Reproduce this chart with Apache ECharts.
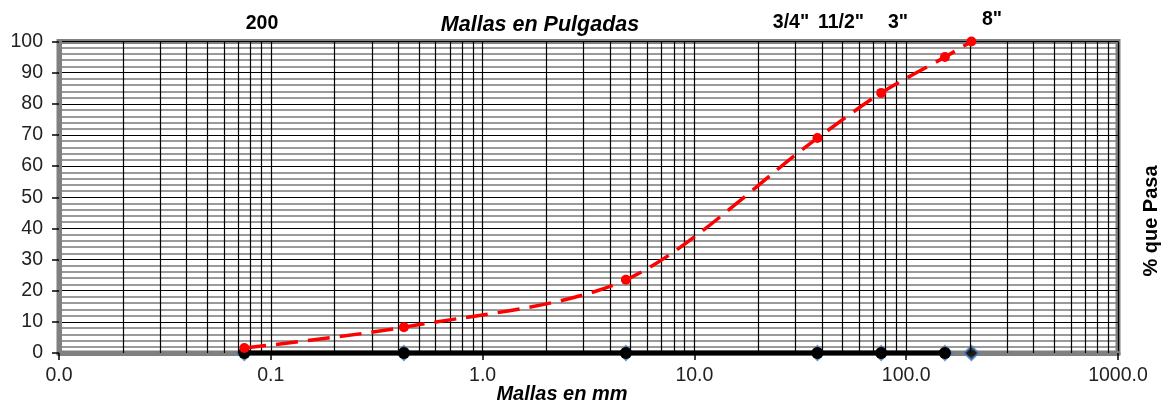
<!DOCTYPE html>
<html><head><meta charset="utf-8">
<script src="https://cdn.jsdelivr.net/npm/echarts@6/dist/echarts.min.js"></script>
<style>html,body{margin:0;padding:0;background:#fff}#c{width:1163px;height:405px}</style>
</head><body><div id="c"></div>
<script>
// ---- data ----
const sieveMm = [0.075, 0.425, 4.75, 38.1, 76.2, 152.4, 203.2];
const percentPassing = [1.6, 8.3, 23.5, 69, 83.5, 95, 100];
const baseSieveMm = [0.075, 0.425, 4.75, 38.1, 76.2, 152.4];
const baseValues = [0, 0, 0, 0, 0, 0];
const diamondValues = [0, 0, 0, 0, 0, 0, 0];
const inchLabels = ['200', '3/4"', '11/2"', '3"', '8"'];
const titleText = 'Mallas en Pulgadas';
const xName = 'Mallas en mm';
const yName = '% que Pasa';

// minor vertical gridlines (2..9 within each decade)
const minorX = [];
for (let e = -2; e < 3; e++) for (let m = 2; m <= 9; m++) minorX.push(+(m * Math.pow(10, e)).toPrecision(3));

const FONT = 'Liberation Sans, Arial, sans-serif';
const chart = echarts.init(document.getElementById('c'));
const inchPos = [[262, 24], [791, 23], [841, 23], [898, 23], [992, 20]];

chart.setOption({
  animation: false,
  grid: { left: 59, right: 45, top: 41.5, bottom: 52, show: true, borderColor: '#808080', borderWidth: 5, backgroundColor: 'transparent' },
  xAxis: {
    type: 'log', logBase: 10, min: 0.01, max: 1000,
    axisLine: { show: true, lineStyle: { color: '#808080', width: 5 } },
    axisTick: { show: true, length: 7, lineStyle: { color: '#000', width: 1.5 } },
    axisLabel: { color: '#222', fontSize: 19.5, fontFamily: FONT, margin: 13, formatter: v => Number(v).toFixed(1) },
    splitLine: { show: true, lineStyle: { color: '#000', width: 1.2 } },
    minorTick: { show: false }, minorSplitLine: { show: false }
  },
  yAxis: {
    type: 'value', min: 0, max: 100, interval: 10,
    axisLine: { show: true, lineStyle: { color: '#808080', width: 5 } },
    axisTick: { show: true, length: 7, lineStyle: { color: '#000', width: 1.5 } },
    axisLabel: { color: '#222', fontSize: 19.5, fontFamily: FONT, margin: 16 },
    splitLine: { show: true, lineStyle: { color: '#000', width: 1.2 } },
    minorTick: { show: false, splitNumber: 5 },
    minorSplitLine: { show: true, lineStyle: { color: '#7a7a7a', width: 1.5 } }
  },
  graphic: [
    { type: 'text', x: 540, y: 25, style: { text: titleText, font: 'italic bold 21.5px ' + FONT, fill: '#000', textAlign: 'center', textVerticalAlign: 'middle' } },
    ...inchLabels.map((t, i) => ({ type: 'text', x: inchPos[i][0], y: inchPos[i][1], style: { text: t, font: 'bold 19.5px ' + FONT, fill: '#000', textAlign: 'center', textVerticalAlign: 'middle' } })),
    { type: 'text', x: 562, y: 394, style: { text: xName, font: 'italic bold 20px ' + FONT, fill: '#000', textAlign: 'center', textVerticalAlign: 'middle' } },
    { type: 'text', x: 1151, y: 221, rotation: Math.PI / 2, style: { text: yName, font: 'bold 20px ' + FONT, fill: '#000', textAlign: 'center', textVerticalAlign: 'middle' } }
  ],
  series: [
    {
      type: 'line', data: [], silent: true, z: 1,
      markLine: { silent: true, symbol: ['none', 'none'], label: { show: false },
        lineStyle: { color: '#000', width: 1.2, type: 'solid' },
        data: minorX.map(v => ({ xAxis: v })) }
    },
    {
      type: 'scatter', data: sieveMm.map((x, i) => [x, diamondValues[i]]), symbol: 'diamond', symbolSize: 14, z: 3,
      itemStyle: { color: '#000', borderColor: '#4a7ebb', borderWidth: 2 }
    },
    {
      type: 'line', data: baseSieveMm.map((x, i) => [x, baseValues[i]]), symbol: 'circle', symbolSize: 12, z: 4,
      lineStyle: { color: '#000', width: 5 }, itemStyle: { color: '#000' }
    },
    {
      type: 'line', data: sieveMm.map((x, i) => [x, percentPassing[i]]), smooth: 0.3, symbol: 'circle', symbolSize: 10, z: 5,
      lineStyle: { color: '#ff0000', width: 3.5, type: [22, 10] }, itemStyle: { color: '#ff0000' }
    }
  ]
});
</script></body></html>
